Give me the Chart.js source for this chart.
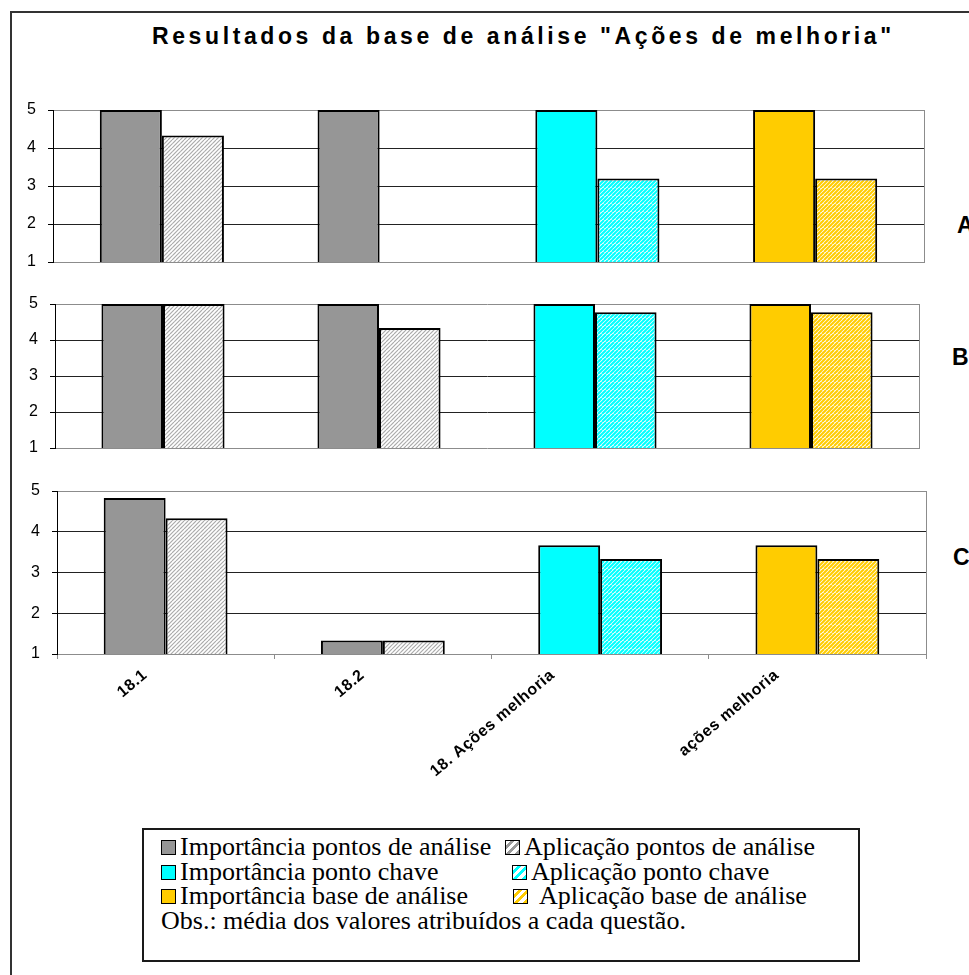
<!DOCTYPE html>
<html lang="pt">
<head>
<meta charset="utf-8">
<title>Resultados da base de análise</title>
<script src="https://cdn.jsdelivr.net/npm/chart.js@4.4.1/dist/chart.umd.min.js"></script>
<style>
  html, body { margin: 0; padding: 0; background: #fff; }
  body { width: 969px; height: 975px; position: relative; overflow: hidden; font-family: "Liberation Sans", Arial, sans-serif; }
  .frame { position: absolute; left: 10px; top: 11px; width: 1200px; height: 1200px;
           border-left: 2px solid #333; border-top: 2px solid #333; }
  .title { position: absolute; left: 152px; top: 25px; font-family: "Liberation Sans", Arial, sans-serif;
           font-weight: bold; font-size: 23px; line-height: 23px;
           letter-spacing: 3.6px; white-space: nowrap; color: #000; }
  .panel-label { position: absolute; font-family: "Liberation Sans", Arial, sans-serif; font-weight: bold;
                 font-size: 23px; line-height: 23px; color: #000; }
  .chart-box { position: absolute; line-height: 0; }
  .chart-box canvas { display: block; }
  .legend { position: absolute; left: 142px; top: 828px; width: 714px; height: 125px;
            border: 2px solid #1a1a1a; background: #fff;
            font-family: "Liberation Serif", "Tinos", "Noto Serif", "DejaVu Serif", "FreeSerif", "Times New Roman", Times, serif;
            font-size: 26px; line-height: 24.7px; color: #000; padding-top: 5px; }
  .legend .row { position: relative; height: 24.7px; white-space: nowrap; }
  .legend .item { position: absolute; top: 0; display: flex; align-items: center; height: 24.7px; }
  .legend .sw { width: 13px; height: 13px; border: 1.5px solid #000; flex: none; }
</style>
</head>
<body>
<div class="frame"></div>
<div class="title">Resultados da base de análise "Ações de melhoria"</div>

<div class="chart-box" style="left:20px; top:100px;"><canvas id="panelA" width="920" height="172"></canvas></div>
<div class="chart-box" style="left:22px; top:294px;"><canvas id="panelB" width="920" height="164"></canvas></div>
<div class="chart-box" style="left:24px; top:481px;"><canvas id="panelC" width="920" height="313"></canvas></div>

<div class="panel-label" style="left:957px; top:214px;">A</div>
<div class="panel-label" style="left:952px; top:346px;">B</div>
<div class="panel-label" style="left:953px; top:546px;">C</div>

<div class="legend" id="legend"></div>

<script>
// Categories along the horizontal axis
const categories = ['18.1', '18.2', '18. Ações melhoria', 'ações melhoria'];

// Series names (legend order)
const seriesNames = [
  'Importância pontos de análise',
  'Aplicação pontos de análise',
  'Importância ponto chave',
  'Aplicação ponto chave',
  'Importância base de análise',
  'Aplicação base de análise'
];
const legendNote = 'Obs.: média dos valores atribuídos a cada questão.';

// Value axis ticks (scale of 1 to 5)
const yTicks = [1, 2, 3, 4, 5];

// Panel A
const aImpPontos = [5, 5, null, null];
const aAplPontos = [4.33, 1, null, null];
const aImpChave  = [null, null, 5, null];
const aAplChave  = [null, null, 3.2, null];
const aImpBase   = [null, null, null, 5];
const aAplBase   = [null, null, null, 3.2];

// Panel B
const bImpPontos = [5, 5, null, null];
const bAplPontos = [5, 4.33, null, null];
const bImpChave  = [null, null, 5, null];
const bAplChave  = [null, null, 4.77, null];
const bImpBase   = [null, null, null, 5];
const bAplBase   = [null, null, null, 4.77];

// Panel C
const cImpPontos = [4.83, 1.33, null, null];
const cAplPontos = [4.33, 1.33, null, null];
const cImpChave  = [null, null, 3.67, null];
const cAplChave  = [null, null, 3.33, null];
const cImpBase   = [null, null, null, 3.67];
const cAplBase   = [null, null, null, 3.33];

// Fill styles: solid for "Importância", diagonal hatching for "Aplicação"
function hatch(color, lineWidth) {
  const c = document.createElement('canvas');
  c.width = 8; c.height = 8;
  const g = c.getContext('2d');
  g.fillStyle = '#fff';
  g.fillRect(0, 0, 8, 8);
  g.strokeStyle = color;
  g.lineWidth = lineWidth;
  for (let x0 = -8; x0 <= 8; x0 += 4) {
    g.beginPath();
    g.moveTo(x0, 8);
    g.lineTo(x0 + 8, 0);
    g.stroke();
  }
  return g.createPattern(c, 'repeat');
}
const GRAY = '#969696', CYAN = '#00ffff', GOLD = '#ffcc00';
const fills = [GRAY, hatch('#ababab', 1.2), CYAN, hatch(CYAN, 2), GOLD, hatch(GOLD, 2)];
const swatchCss = [
  GRAY,
  'repeating-linear-gradient(135deg, #fff 0 3px, #9a9a9a 3px 6px)',
  CYAN,
  'repeating-linear-gradient(135deg, #fff 0 3px, ' + CYAN + ' 3px 6px)',
  GOLD,
  'repeating-linear-gradient(135deg, #fff 0 3px, ' + GOLD + ' 3px 6px)'
];

const SANS = '"Liberation Sans", Arial, sans-serif';

// Slanted category labels under the bottom axis (longer labels sit further left of their tick)
const slantedLabels = {
  id: 'slantedLabels',
  afterDraw(chart, args, opts) {
    if (!opts.enabled) return;
    const s = chart.scales.x;
    const ctx = chart.ctx;
    ctx.save();
    ctx.font = 'bold 16px ' + SANS;
    if ('letterSpacing' in ctx) ctx.letterSpacing = '0.6px';
    ctx.fillStyle = '#000';
    ctx.textAlign = 'right';
    ctx.textBaseline = 'middle';
    s.ticks.forEach((t, i) => {
      const label = s.getLabelForValue(t.value);
      const w = ctx.measureText(label).width;
      const x = s.getPixelForTick(i) - 13 - 0.22 * w;
      const y = s.top + 19;
      ctx.save();
      ctx.translate(x, y);
      ctx.rotate(-40 * Math.PI / 180);
      ctx.fillText(label, 0, 0);
      ctx.restore();
    });
    ctx.restore();
  }
};

function makePanel(id, seriesValues, opts) {
  const datasets = seriesValues.map((vals, i) => ({
    label: seriesNames[i],
    data: vals,
    backgroundColor: fills[i],
    borderColor: '#000',
    borderWidth: 2,
    borderSkipped: false,
    categoryPercentage: 0.57,
    barPercentage: 1.0
  }));
  const edgeGray = '#8c8c8c';
  return new Chart(document.getElementById(id), {
    type: 'bar',
    data: { labels: categories, datasets },
    plugins: [slantedLabels],
    options: {
      responsive: false,
      animation: false,
      devicePixelRatio: 1,
      skipNull: true,
      layout: { padding: opts.padding },
      plugins: {
        legend: { display: false }, tooltip: { enabled: false }, title: { display: false },
        slantedLabels: { enabled: opts.showX }
      },
      scales: {
        x: {
          display: opts.showX,
          offset: true,
          grid: { display: true, drawOnChartArea: false, offset: true, color: edgeGray, tickLength: 5 },
          border: { display: true, color: edgeGray, width: 1 },
          ticks: { display: false },
          afterFit: s => { if (opts.showX) s.height = opts.xHeight; }
        },
        y: {
          min: yTicks[0], max: yTicks[yTicks.length - 1],
          afterBuildTicks: s => { s.ticks = yTicks.map(v => ({ value: v })); },
          afterFit: s => { s.width = opts.yWidth; s.paddingTop = 0; s.paddingBottom = 0; },
          grid: {
            color: c => (c.tick && (c.tick.value === yTicks[0] || c.tick.value === yTicks[yTicks.length - 1])) ? edgeGray : '#222',
            tickColor: '#000', tickLength: 5, lineWidth: 1
          },
          border: { display: true, color: '#000', width: 1 },
          ticks: {
            color: '#000', padding: 12,
            font: { family: SANS, size: 16 }
          }
        },
        yRight: {
          position: 'right', min: yTicks[0], max: yTicks[yTicks.length - 1],
          grid: { display: false, drawTicks: false },
          ticks: { display: false },
          border: { display: true, color: edgeGray, width: 1 },
          afterFit: s => { s.width = 0; s.paddingTop = 0; s.paddingBottom = 0; }
        }
      }
    }
  });
}

makePanel('panelA', [aImpPontos, aAplPontos, aImpChave, aAplChave, aImpBase, aAplBase],
  { showX: false, yWidth: 33, padding: { top: 10, bottom: 10, left: 0, right: 16 } });
makePanel('panelB', [bImpPontos, bAplPontos, bImpChave, bAplChave, bImpBase, bAplBase],
  { showX: false, yWidth: 33, padding: { top: 10, bottom: 10, left: 0, right: 23 } });
makePanel('panelC', [cImpPontos, cAplPontos, cImpChave, cAplChave, cImpBase, cAplBase],
  { showX: true, xHeight: 140, yWidth: 33, padding: { top: 10, bottom: 0, left: 0, right: 18 } });

// Legend: two columns (Importância / Aplicação) plus a note line
(function buildLegend() {
  const box = document.getElementById('legend');
  const col2Left = [361, 368, 369];
  const col2Gap = [4, 4, 11];
  for (let r = 0; r < 3; r++) {
    const row = document.createElement('div');
    row.className = 'row';
    [[r * 2, 17, 4], [r * 2 + 1, col2Left[r], col2Gap[r]]].forEach(([idx, left, gap]) => {
      const item = document.createElement('div');
      item.className = 'item';
      item.style.left = left + 'px';
      const sw = document.createElement('span');
      sw.className = 'sw';
      sw.style.background = swatchCss[idx];
      sw.style.marginRight = gap + 'px';
      const tx = document.createElement('span');
      tx.textContent = seriesNames[idx];
      item.appendChild(sw);
      item.appendChild(tx);
      row.appendChild(item);
    });
    box.appendChild(row);
  }
  const note = document.createElement('div');
  note.className = 'row';
  note.style.paddingLeft = '17px';
  note.textContent = legendNote;
  box.appendChild(note);
})();
</script>
</body>
</html>
